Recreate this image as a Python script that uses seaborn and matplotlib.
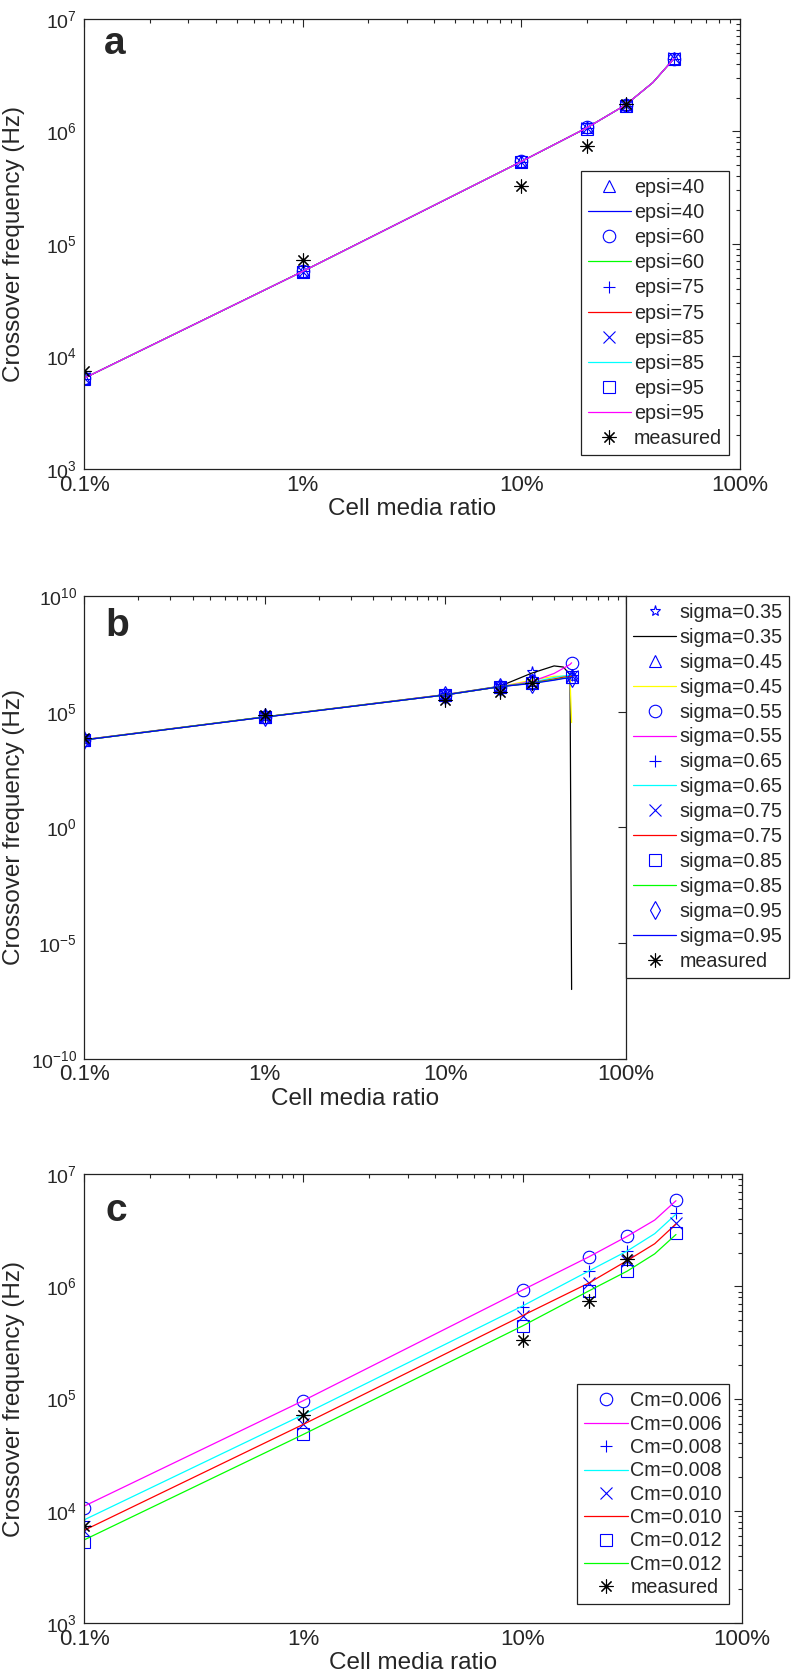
import matplotlib
matplotlib.use("Agg")
import matplotlib.pyplot as plt
import seaborn as sns
from matplotlib.ticker import LogLocator, NullFormatter, NullLocator, FixedLocator, FixedFormatter

# ---- data ----
RATIO = [0.001, 0.01, 0.1, 0.2, 0.3, 0.5]
RATIO_LINE = [0.001, 0.01, 0.1, 0.2, 0.3, 0.4, 0.5]
RATIO_LINE_B = [0.001, 0.01, 0.1, 0.2, 0.3, 0.4, 0.45, 0.49, 0.5]
RATIO_TICKS = [0.001, 0.01, 0.1, 1.0]
RATIO_LABELS = ["0.1%", "1%", "10%", "100%"]

MEASURED_RATIO = [0.001, 0.01, 0.1, 0.2, 0.3]
MEASURED = [7.4e3, 7.2e4, 3.3e5, 7.4e5, 1.75e6]

# panel a: permittivity
EPSI = ["40", "60", "75", "85", "95"]
EPSI_MARKERS = ["^", "o", "+", "x", "s"]
EPSI_COLORS = ["#0000ff", "#00ff00", "#ff0000", "#00ffff", "#ff00ff"]
EPSI_POINTS = [
    [6.4e3, 5.7e4, 5.5e5, 1.10e6, 1.75e6, 4.5e6],
    [6.5e3, 5.8e4, 5.5e5, 1.10e6, 1.72e6, 4.4e6],
    [6.3e3, 5.7e4, 5.4e5, 1.08e6, 1.70e6, 4.4e6],
    [6.4e3, 5.6e4, 5.4e5, 1.07e6, 1.70e6, 4.5e6],
    [6.3e3, 5.6e4, 5.3e5, 1.06e6, 1.68e6, 4.4e6],
]
EPSI_LINES = [
    [6.4e3, 5.7e4, 5.4e5, 1.08e6, 1.72e6, 2.72e6, 4.45e6],
    [6.4e3, 5.7e4, 5.4e5, 1.08e6, 1.72e6, 2.72e6, 4.45e6],
    [6.4e3, 5.7e4, 5.4e5, 1.08e6, 1.72e6, 2.72e6, 4.45e6],
    [6.4e3, 5.7e4, 5.4e5, 1.08e6, 1.72e6, 2.72e6, 4.45e6],
    [6.4e3, 5.7e4, 5.4e5, 1.08e6, 1.72e6, 2.72e6, 4.45e6],
]

# panel b: conductivity
SIGMA = ["0.35", "0.45", "0.55", "0.65", "0.75", "0.85", "0.95"]
SIGMA_MARKERS = ["*", "^", "o", "+", "x", "s", "d"]
SIGMA_COLORS = ["#000000", "#ffff00", "#ff00ff", "#00ffff", "#ff0000", "#00ff00", "#0000ff"]
SIGMA_POINTS = [
    [6.2e3, 6.0e4, 5.5e5, 1.25e6, 5.0e6, 3.2e6],
    [6.1e3, 5.9e4, 5.4e5, 1.20e6, 2.3e6, 3.3e6],
    [6.1e3, 5.9e4, 5.4e5, 1.20e6, 2.0e6, 1.3e7],
    [6.0e3, 5.9e4, 5.3e5, 1.20e6, 1.85e6, 3.9e6],
    [6.0e3, 5.9e4, 5.3e5, 1.20e6, 1.75e6, 3.4e6],
    [6.0e3, 5.9e4, 5.3e5, 1.20e6, 1.70e6, 3.1e6],
    [6.0e3, 5.8e4, 5.3e5, 1.20e6, 1.65e6, 3.0e6],
]
SIGMA_LINES = [
    [6.2e3, 6.0e4, 5.5e5, 1.25e6, 4.6e6, 9.5e6, 8.5e6, 4.0e6, 1e-7],
    [6.1e3, 5.9e4, 5.4e5, 1.20e6, 2.3e6, 3.4e6, 3.4e6, 3.0e6, 3.4e4],
    [6.1e3, 5.9e4, 5.4e5, 1.20e6, 2.0e6, 4.5e6, 7.5e6, 1.1e7, 1.3e7],
    [6.0e3, 5.9e4, 5.3e5, 1.20e6, 1.85e6, 3.0e6, 3.5e6, 3.8e6, 3.9e6],
    [6.0e3, 5.9e4, 5.3e5, 1.20e6, 1.75e6, 2.6e6, 3.1e6, 3.3e6, 3.4e6],
    [6.0e3, 5.9e4, 5.3e5, 1.20e6, 1.70e6, 2.4e6, 2.8e6, 3.0e6, 3.1e6],
    [6.0e3, 5.8e4, 5.3e5, 1.20e6, 1.65e6, 2.3e6, 2.7e6, 2.9e6, 3.0e6],
]

# panel c: membrane capacitance
CM = ["0.006", "0.008", "0.010", "0.012"]
CM_MARKERS = ["o", "+", "x", "s"]
CM_COLORS = ["#ff00ff", "#00ffff", "#ff0000", "#00ff00"]
CM_POINTS = [
    [1.05e4, 9.6e4, 9.3e5, 1.83e6, 2.80e6, 5.9e6],
    [8.1e3, 7.1e4, 6.6e5, 1.37e6, 2.07e6, 4.5e6],
    [6.6e3, 6.0e4, 5.5e5, 1.07e6, 1.70e6, 3.7e6],
    [5.3e3, 4.8e4, 4.45e5, 9.1e5, 1.37e6, 2.97e6],
]
CM_LINES = [
    [1.1e4, 9.6e4, 9.3e5, 1.83e6, 2.80e6, 3.9e6, 5.8e6],
    [8.3e3, 7.2e4, 6.7e5, 1.37e6, 2.07e6, 2.95e6, 4.4e6],
    [6.7e3, 5.9e4, 5.5e5, 1.07e6, 1.70e6, 2.40e6, 3.6e6],
    [5.5e3, 4.8e4, 4.45e5, 9.1e5, 1.37e6, 1.95e6, 2.9e6],
]

ASTERISK = (8, 2, 0)
BLUE = "#0000ff"


def markers(ax, x, y, marker, color, label, size=9):
    sns.lineplot(x=x, y=y, ax=ax, estimator=None, sort=False, color=color,
                 linestyle="none", marker=marker, markersize=size,
                 markerfacecolor="none", markeredgecolor=color,
                 markeredgewidth=0.8, label=label, legend=False)


def curve(ax, x, y, color, label):
    sns.lineplot(x=x, y=y, ax=ax, estimator=None, sort=False, color=color,
                 linewidth=0.9, label=label, legend=False)


def style_axis(ax, ylim, label_x, yticks=None):
    ax.set_xscale("log")
    ax.set_yscale("log")
    ax.set_xlim(1e-3, 1)
    ax.set_ylim(*ylim)
    ax.xaxis.set_major_locator(FixedLocator(RATIO_TICKS))
    ax.xaxis.set_major_formatter(FixedFormatter(RATIO_LABELS))
    ax.xaxis.set_minor_locator(LogLocator(base=10, subs=range(2, 10), numticks=20))
    ax.xaxis.set_minor_formatter(NullFormatter())
    if yticks is not None:
        ax.set_yticks(yticks)
        ax.yaxis.set_minor_locator(NullLocator())
    else:
        ax.yaxis.set_minor_locator(LogLocator(base=10, subs=range(2, 10), numticks=20))
        ax.yaxis.set_minor_formatter(NullFormatter())
    ax.tick_params(which="both", direction="in", top=True, right=True, width=0.8)
    ax.tick_params(which="major", length=6)
    ax.tick_params(which="minor", length=3)
    ax.tick_params(axis="x", which="major", labelsize=16, pad=4)
    ax.tick_params(axis="y", which="major", labelsize=14, pad=5)
    for s in ax.spines.values():
        s.set_color("#222222")
        s.set_linewidth(0.9)
    ax.set_xlabel("Cell media ratio", fontsize=17.5, labelpad=2)
    ax.set_ylabel("Crossover frequency (Hz)", fontsize=17.5)
    ax.yaxis.set_label_coords(label_x, 0.5)


sns.set_style("white")
plt.rcParams["font.family"] = ["Liberation Sans", "DejaVu Sans"]
plt.rcParams["mathtext.default"] = "regular"
plt.rcParams["axes.unicode_minus"] = False

fig = plt.figure(figsize=(7.94, 16.75), dpi=100)
ax_a = fig.add_axes([0.1058, 0.72, 0.826, 0.2687])
ax_b = fig.add_axes([0.1058, 0.3678, 0.6826, 0.2764])
ax_c = fig.add_axes([0.1058, 0.031, 0.8287, 0.268])

# panel a
style_axis(ax_a, (1e3, 1e7), -0.09)
for name, mk, col, pts, ln in zip(EPSI, EPSI_MARKERS, EPSI_COLORS, EPSI_POINTS, EPSI_LINES):
    markers(ax_a, RATIO, pts, mk, BLUE, f"epsi={name}")
    curve(ax_a, RATIO_LINE, ln, col, f"epsi={name}")
markers(ax_a, MEASURED_RATIO, MEASURED, ASTERISK, "k", "measured", size=10)

# panel b
style_axis(ax_b, (1e-10, 1e10), -0.109, yticks=[1e-10, 1e-5, 1e0, 1e5, 1e10])
for name, mk, col, pts, ln in zip(SIGMA, SIGMA_MARKERS, SIGMA_COLORS, SIGMA_POINTS, SIGMA_LINES):
    markers(ax_b, RATIO, pts, mk, BLUE, f"sigma={name}", size=8 if mk == "*" else 9)
    curve(ax_b, RATIO_LINE_B, ln, col, f"sigma={name}")
markers(ax_b, MEASURED_RATIO, MEASURED, ASTERISK, "k", "measured", size=10)

# panel c
style_axis(ax_c, (1e3, 1e7), -0.0897)
for name, mk, col, pts, ln in zip(CM, CM_MARKERS, CM_COLORS, CM_POINTS, CM_LINES):
    markers(ax_c, RATIO, pts, mk, BLUE, f"Cm={name}")
    curve(ax_c, RATIO_LINE, ln, col, f"Cm={name}")
markers(ax_c, MEASURED_RATIO, MEASURED, ASTERISK, "k", "measured", size=10)

leg_kw = dict(fontsize=14.2, frameon=True, fancybox=False, edgecolor="#222222",
              framealpha=1, handlelength=2.2, handletextpad=0.15, numpoints=1,
              borderpad=0.35, borderaxespad=0, bbox_transform=fig.transFigure)
la = ax_a.legend(loc="lower right", bbox_to_anchor=(729 / 794, 1 - 455 / 1675),
                 labelspacing=0.31, **leg_kw)
lb = ax_b.legend(loc="upper left", bbox_to_anchor=(626 / 794, 1 - 596 / 1675),
                 labelspacing=0.30, **leg_kw)
lc = ax_c.legend(loc="lower right", bbox_to_anchor=(729 / 794, 1 - 1604 / 1675),
                 labelspacing=0.22, **leg_kw)
for lg in (la, lb, lc):
    lg.get_frame().set_linewidth(0.9)

for ax, letter, x, y in ((ax_a, "a", 0.03, 0.945), (ax_b, "b", 0.04, 0.935), (ax_c, "c", 0.032, 0.918)):
    ax.text(x, y, letter, transform=ax.transAxes, fontsize=28, fontweight="bold",
            ha="left", va="center")

fig.savefig("out.png", dpi=100)
